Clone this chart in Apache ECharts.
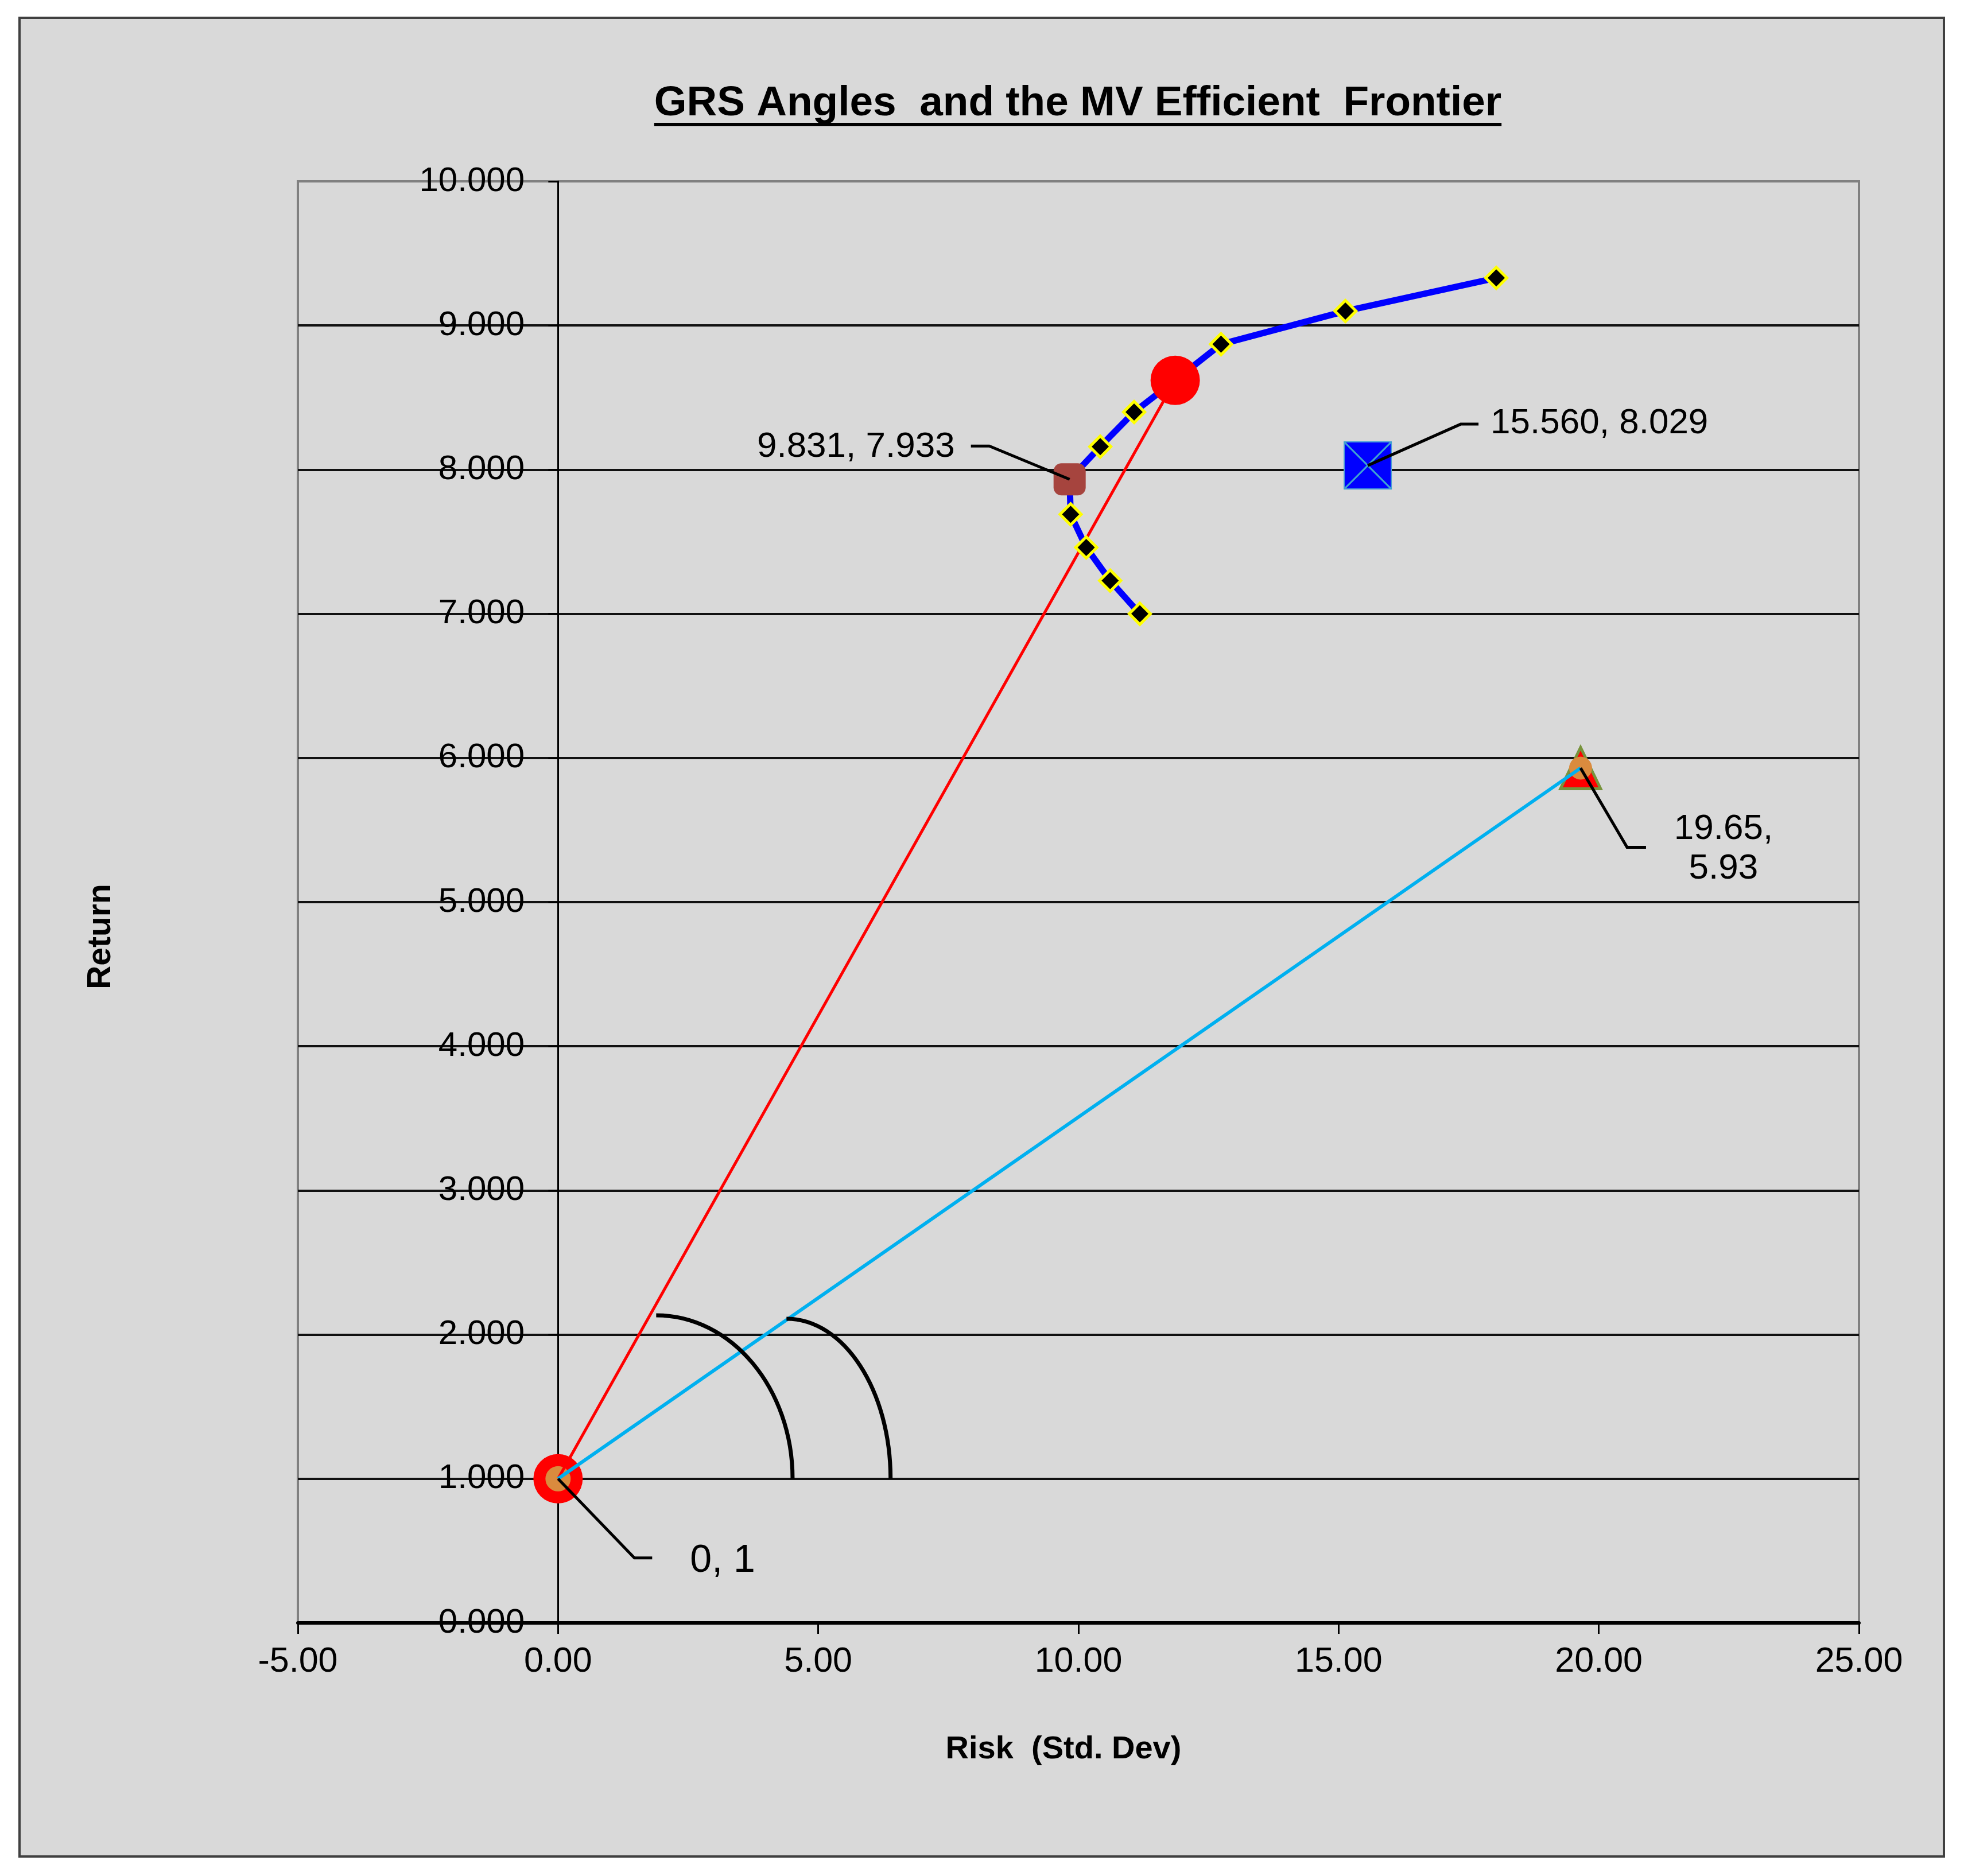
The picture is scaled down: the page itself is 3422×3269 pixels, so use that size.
<!DOCTYPE html>
<html>
<head>
<meta charset="utf-8">
<script src="https://cdn.jsdelivr.net/npm/echarts@6/dist/echarts.min.js"></script>
<style>
html,body{margin:0;padding:0;background:#fff;}
#chart{width:3422px;height:3269px;}
</style>
</head>
<body>
<div id="chart"></div>
<script>
// ---- data ----
const frontierRisk   = [11.18, 10.61, 10.15, 9.85, 9.831, 10.42, 11.07, 11.86, 12.74, 15.13, 18.03];
const frontierReturn = [7.00, 7.23, 7.46, 7.69, 7.933, 8.16, 8.40, 8.62, 8.87, 9.10, 9.33];
const diamondRisk    = [11.18, 10.61, 10.15, 9.85, 10.42, 11.07, 12.74, 15.13, 18.03];
const diamondReturn  = [7.00, 7.23, 7.46, 7.69, 8.16, 8.40, 8.87, 9.10, 9.33];
const riskFree       = [0, 1];
const tangency       = [11.86, 8.62];
const minVariance    = [9.831, 7.933];
const assetPoint     = [15.560, 8.029];
const grsPoint       = [19.65, 5.93];
// angle arcs: [startRisk, startReturn, endRisk, endReturn]
const arcRisk1   = [1.886, 4.507];
const arcReturn1 = [2.134, 1.0];
const arcRisk2   = [4.39, 6.39];
const arcReturn2 = [2.11, 1.0];
// data labels
const annotRisk   = [9.831, 15.560, 19.65, 0];
const annotReturn = [7.933, 8.029, 5.93, 1];
const annotText   = ['9.831, 7.933', '15.560, 8.029', '19.65,\n5.93', '0, 1'];
const xTicks = [-5, 0, 5, 10, 15, 20, 25];
const yTicks = [0, 1, 2, 3, 4, 5, 6, 7, 8, 9, 10];

const titleText = 'GRS Angles  and the MV Efficient  Frontier';
const FONT = '"Liberation Sans", Arial, sans-serif';

// ---- layout (styles) ----
const leaderLayout = [
  {bend:[-140,-58], end:[-172,-58], text:[-200,-56], align:'right', size:62},
  {bend:[162,-72],  end:[193,-72],  text:[214,-73],  align:'left',  size:62},
  {bend:[81,138],   end:[114,138],  text:[249,141],  align:'center',size:62},
  {bend:[133,138],  end:[164,138],  text:[230,143],  align:'left',  size:68}
];

const zip = (a, b) => a.map((v, i) => [v, b[i]]);

const chart = echarts.init(document.getElementById('chart'), null, {renderer:'canvas'});

// measure title for underline
const cv = document.createElement('canvas').getContext('2d');
cv.font = 'bold 73px ' + FONT;
const titleW = cv.measureText(titleText).width;
const titleCx = 1878, titleCy = 181;

const K = 0.5523;
function arcRender(params, api) {
  const s = api.coord([api.value(0), api.value(1)]);
  const e = api.coord([api.value(2), api.value(3)]);
  const rx = e[0] - s[0], ry = e[1] - s[1];
  return {
    type: 'bezierCurve',
    shape: {x1:s[0], y1:s[1], x2:e[0], y2:e[1],
            cpx1: s[0] + K*rx, cpy1: s[1], cpx2: e[0], cpy2: e[1] - K*ry},
    style: {stroke:'#000', lineWidth:7, fill:null}
  };
}

function labelRender(params, api) {
  const i = params.dataIndex;
  const L = leaderLayout[i];
  const p = api.coord([api.value(0), api.value(1)]);
  return {
    type: 'group',
    children: [
      {type:'polyline', shape:{points:[p, [p[0]+L.bend[0], p[1]+L.bend[1]], [p[0]+L.end[0], p[1]+L.end[1]]]},
       style:{stroke:'#000', lineWidth:5, fill:null}},
      {type:'text', x:p[0]+L.text[0], y:p[1]+L.text[1],
       style:{text: annotText[i], fill:'#000', fontSize:L.size, fontFamily:FONT,
              align:L.align, verticalAlign:'middle', lineHeight:69}}
    ]
  };
}

const option = {
  backgroundColor: '#ffffff',
  animation: false,
  graphic: [
    {type:'rect', z:-10, silent:true, shape:{x:34, y:31, width:3353, height:3204},
     style:{fill:'#D9D9D9', stroke:'#404040', lineWidth:4}},
    {type:'text', x:titleCx, y:titleCy, z:10,
     style:{text:titleText, fill:'#000', font:'bold 73px ' + FONT, align:'center', verticalAlign:'middle'}},
    {type:'line', z:10, shape:{x1:titleCx - titleW/2, y1:217, x2:titleCx + titleW/2, y2:217},
     style:{stroke:'#000', lineWidth:6}},
    {type:'text', x:1853, y:3049, z:10,
     style:{text:'Risk  (Std. Dev)', fill:'#000', font:'bold 56px ' + FONT, align:'center', verticalAlign:'middle'}},
    {type:'text', x:176, y:1632, rotation:Math.PI/2, z:10,
     style:{text:'Return', fill:'#000', font:'bold 57px ' + FONT, align:'center', verticalAlign:'middle'}}
  ],
  grid: {left:519, right:183, top:316, bottom:441, show:true,
         backgroundColor:'#D9D9D9', borderColor:'#808080', borderWidth:4},
  xAxis: {
    type:'value', min:xTicks[0], max:xTicks[xTicks.length-1], interval:5,
    axisLine:{show:true, onZero:true, lineStyle:{color:'#000', width:6}},
    axisTick:{show:true, inside:false, length:19, lineStyle:{color:'#000', width:3}},
    axisLabel:{margin:38, fontSize:61, fontFamily:FONT, color:'#000',
               formatter: v => v.toFixed(2)},
    splitLine:{show:false}
  },
  yAxis: {
    type:'value', min:yTicks[0], max:yTicks[yTicks.length-1], interval:1,
    axisLine:{show:true, onZero:true, lineStyle:{color:'#000', width:3}},
    axisTick:{show:true, inside:false, length:17, lineStyle:{color:'#000', width:3}},
    axisLabel:{margin:-395, fontSize:60, fontFamily:FONT, color:'#000',
               formatter: v => v.toFixed(3)},
    splitLine:{show:true, showMinLine:false, showMaxLine:false, lineStyle:{color:'#111', width:4}}
  },
  series: [
    {name:'Frontier', type:'line', data: zip(frontierRisk, frontierReturn), z:2,
     showSymbol:false, symbol:'none', lineStyle:{color:'#0000FF', width:11}},
    {name:'Risk-free marker', type:'scatter', data:[riskFree], z:3, symbol:'circle', symbolSize:86,
     itemStyle:{color:'#FF0000', opacity:1}},
    {name:'Risk-free inner', type:'scatter', data:[riskFree], z:4, symbol:'circle', symbolSize:44,
     itemStyle:{color:'#DA8B3E', opacity:1}},
    {name:'GRS marker', type:'scatter', data:[grsPoint], z:3, symbol:'triangle', symbolSize:[70,72],
     itemStyle:{color:'#FF0000', borderColor:'#77933C', borderWidth:5, opacity:1}},
    {name:'GRS inner', type:'scatter', data:[grsPoint], z:4, symbol:'circle', symbolSize:40,
     itemStyle:{color:'#DA8B3E', opacity:1}},
    {name:'Tangent line', type:'line', data:[riskFree, tangency], z:5, symbol:'none',
     lineStyle:{color:'#FF0000', width:5}},
    {name:'GRS line', type:'line', data:[riskFree, grsPoint], z:5, symbol:'none',
     lineStyle:{color:'#00B0F0', width:6}},
    {name:'Frontier points', type:'scatter', data: zip(diamondRisk, diamondReturn), z:6,
     symbol:'diamond', symbolSize:37,
     itemStyle:{color:'#000', borderColor:'#FFFF00', borderWidth:5, opacity:1}},
    {name:'Min variance', type:'scatter', data:[minVariance], z:7, symbol:'roundRect', symbolSize:56,
     itemStyle:{color:'#A6443E', opacity:1}},
    {name:'Tangency', type:'scatter', data:[tangency], z:7, symbol:'circle', symbolSize:86,
     itemStyle:{color:'#FF0000', opacity:1}},
    {name:'Asset', type:'scatter', data:[assetPoint], z:7, symbol:'rect', symbolSize:82,
     itemStyle:{color:'#0000FF', borderColor:'#4A9FD6', borderWidth:2, opacity:1}},
    {name:'Asset X', type:'scatter', data:[assetPoint], z:8, symbol:'path://M0,0L10,10M10,0L0,10',
     symbolSize:82, symbolKeepAspect:false,
     itemStyle:{color:'rgba(0,0,0,0)', borderColor:'#3FA3D0', borderWidth:3, opacity:1}},
    {name:'Angle arcs', type:'custom', z:9, renderItem: arcRender,
     encode:{x:[0,2], y:[1,3]},
     data:[[arcRisk1[0], arcReturn1[0], arcRisk1[1], arcReturn1[1]],
           [arcRisk2[0], arcReturn2[0], arcRisk2[1], arcReturn2[1]]]},
    {name:'Labels', type:'custom', z:10, renderItem: labelRender,
     encode:{x:0, y:1}, data: zip(annotRisk, annotReturn)}
  ]
};
chart.setOption(option);
</script>
</body>
</html>
